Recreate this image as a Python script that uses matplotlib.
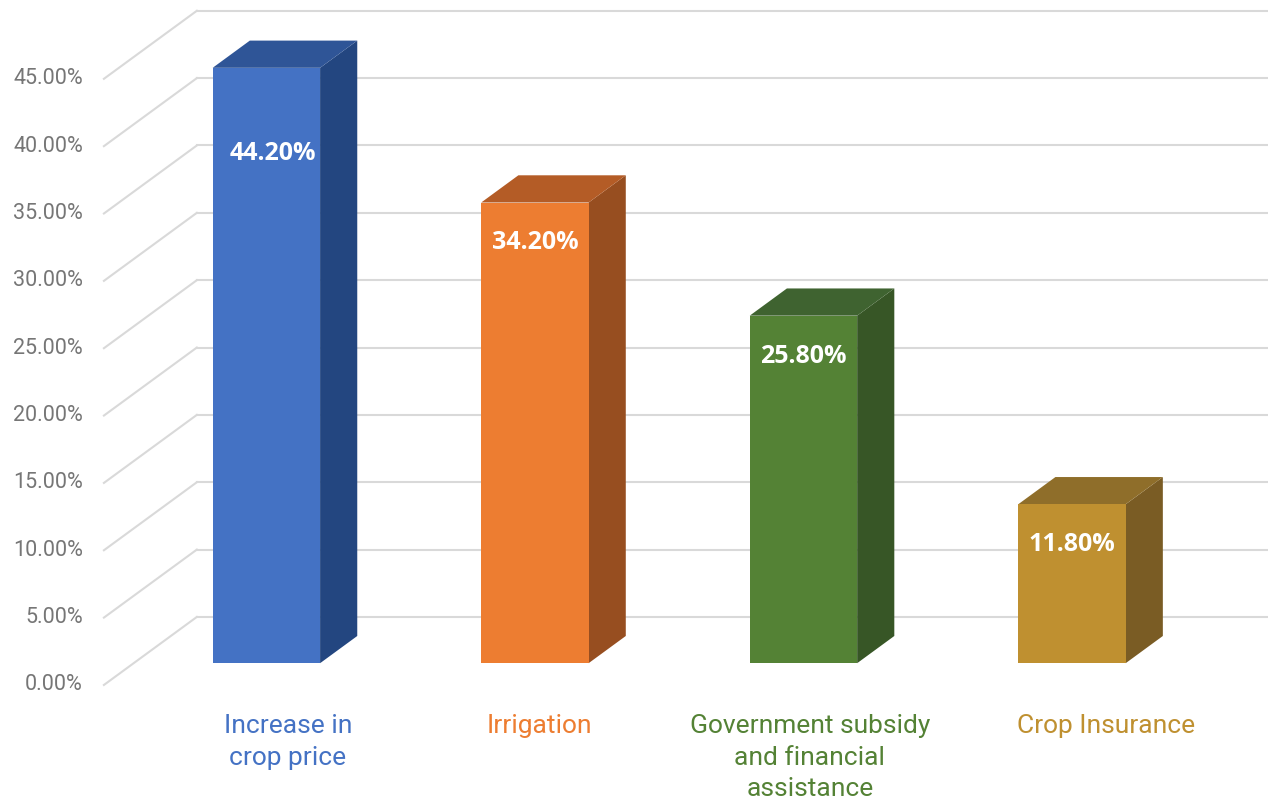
import matplotlib.pyplot as plt
from matplotlib.patches import Polygon

# données
categories = ['Increase in\ncrop price', 'Irrigation',
              'Government subsidy\nand financial\nassistance', 'Crop Insurance']
values = [44.2, 34.2, 25.8, 11.8]
yticks = [0, 5, 10, 15, 20, 25, 30, 35, 40, 45]
label_drop = [6.35, 3.0, 3.0, 3.0]  # décalage des étiquettes sous le sommet
cat_shift = [0.08, 0.017, 0.024, 0.127]  # décalage horizontal des libellés

front_cols = ['#4472C4', '#ED7D31', '#548235', '#BF9030']
top_cols = ['#2F5597', '#B45C26', '#3F6330', '#8F6E2A']
side_cols = ['#234680', '#974E20', '#375626', '#7A5C24']

# géométrie pseudo-3D (profondeur)
DX, DY = 0.346, 5.05      # décalage du mur du fond
Z0, Z1 = 0.32, 0.72       # position des barres dans la profondeur
XW = -0.605               # mur latéral
W = 0.4
XMAX = 3.73


def proj(x, v, z):
    return (x + z * DX, v + z * DY)


fig = plt.figure(figsize=(12.68, 8), dpi=100)
ax = fig.add_axes([0, 0, 1, 1])
ax.set_xlim(-0.992, XMAX)
ax.set_ylim(-8.54, 50.85)
ax.axis('off')

grid = '#D9D9D9'
for v in yticks:
    a = proj(XW, v, 0)
    b = proj(XW, v, 1)
    ax.plot([a[0], b[0]], [a[1], b[1]], color=grid, lw=1.5, zorder=1)
    ax.plot([b[0], XMAX], [b[1], b[1]], color=grid, lw=1.5, zorder=1)
    ax.text(-0.683, v, f'{v:.2f}%', ha='right', va='center',
            fontsize=15.5, color='#767676', family='Roboto')

for i, v in enumerate(values):
    xc = i - Z0 * DX
    x0, x1 = xc - W / 2, xc + W / 2
    # faces de la barre
    front = [proj(x0, 0, Z0), proj(x1, 0, Z0), proj(x1, v, Z0), proj(x0, v, Z0)]
    top = [proj(x0, v, Z0), proj(x1, v, Z0), proj(x1, v, Z1), proj(x0, v, Z1)]
    side = [proj(x1, 0, Z0), proj(x1, 0, Z1), proj(x1, v, Z1), proj(x1, v, Z0)]
    ax.add_patch(Polygon(side, closed=True, fc=side_cols[i], ec='none', zorder=3))
    ax.add_patch(Polygon(top, closed=True, fc=top_cols[i], ec='none', zorder=3))
    ax.add_patch(Polygon(front, closed=True, fc=front_cols[i], ec='none', zorder=4))

    fx, fy = proj(xc, v, Z0)
    ax.text(fx + (0.025 if i == 0 else 0), fy - label_drop[i], f'{v:.2f}%',
            ha='center', va='center', fontsize=18, fontweight='bold',
            color='white', family='Open Sans', zorder=5)

    ax.text(i + cat_shift[i], -2.15, categories[i], ha='center', va='top',
            fontsize=19, color=front_cols[i], family='Roboto', linespacing=1.4)

plt.savefig('out.png', dpi=100)
